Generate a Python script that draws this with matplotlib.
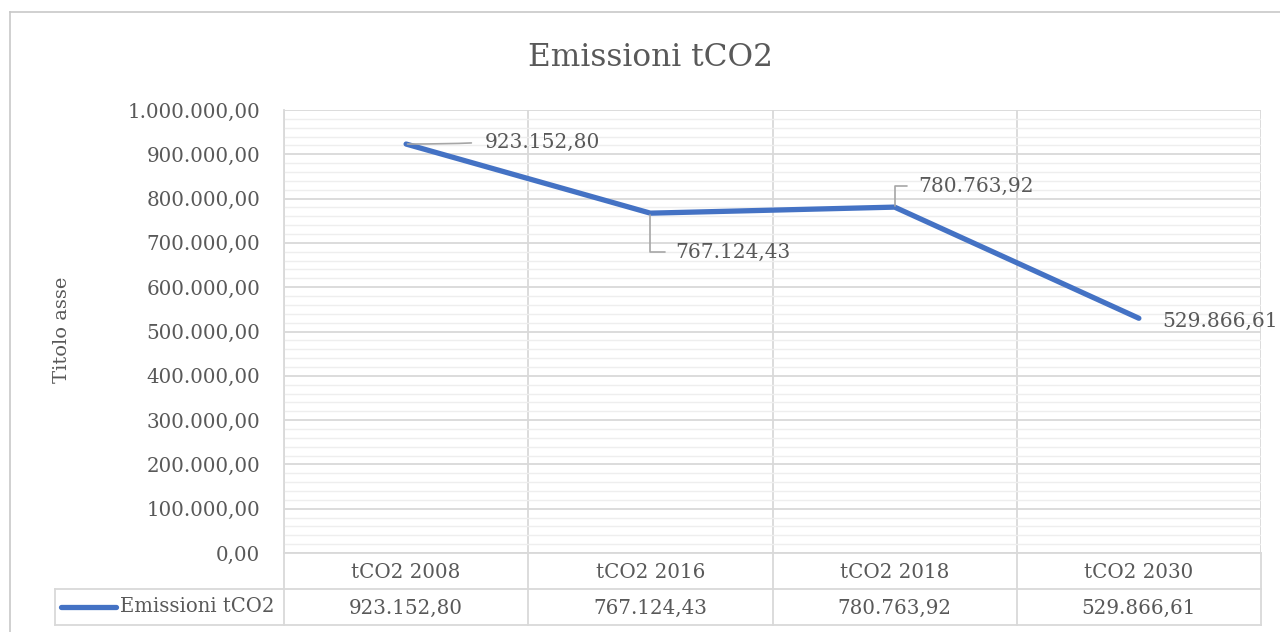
import matplotlib
matplotlib.use("Agg")
import matplotlib.pyplot as plt
from matplotlib.ticker import MultipleLocator, FuncFormatter
from matplotlib.transforms import blended_transform_factory

# dati
categorie = ["tCO2 2008", "tCO2 2016", "tCO2 2018", "tCO2 2030"]
emissioni = [923152.80, 767124.43, 780763.92, 529866.61]
serie_nome = "Emissioni tCO2"
titolo = "Emissioni tCO2"
titolo_asse = "Titolo asse"

BLU = "#4472c4"
GRIGIO_TESTO = "#595959"
GRIGIO_GRID = "#d9d9d9"
GRIGIO_MINOR = "#eeeeee"
FONT = "DejaVu Serif"

W, H = 1280, 632


def it_fmt(v):
    s = f"{v:,.2f}"
    return s.replace(",", "X").replace(".", ",").replace("X", ".")


def fx(px):
    return px / W


def fy(py):
    return 1 - py / H


def pt(px):
    # pixel -> punti (dpi 100)
    return px * 0.72


plt.rcParams["font.family"] = FONT

fig = plt.figure(figsize=(12.8, 6.32), dpi=100)

# bordo del grafico (tagliato a destra e in basso)
fig.add_artist(plt.Line2D([fx(10), fx(10)], [fy(12), 0], color="#c8c8c8", lw=1.2))
fig.add_artist(plt.Line2D([fx(10), 1], [fy(12), fy(12)], color="#c8c8c8", lw=1.2))

x0, x1, ytop, ybot = 284, 1261, 110, 553
ax = fig.add_axes([fx(x0), fy(ybot), fx(x1 - x0), (ybot - ytop) / H])
n = len(categorie)
xs = list(range(n))
ax.set_xlim(-0.5, n - 0.5)
ax.set_ylim(0, 1000000)

ax.yaxis.set_major_locator(MultipleLocator(100000))
ax.yaxis.set_minor_locator(MultipleLocator(20000))
ax.yaxis.set_major_formatter(FuncFormatter(lambda v, p: it_fmt(v)))
ax.grid(which="minor", axis="y", color=GRIGIO_MINOR, lw=1.0)
ax.grid(which="major", axis="y", color=GRIGIO_GRID, lw=1.3)
ax.set_xticks([i + 0.5 for i in range(-1, n)], minor=False)
ax.grid(which="major", axis="x", color=GRIGIO_GRID, lw=1.3)
ax.set_axisbelow(True)
ax.tick_params(axis="both", which="both", length=0)
ax.tick_params(axis="y", labelsize=14.3, labelcolor=GRIGIO_TESTO, pad=pt(24))
ax.set_xticklabels([])
for s in ax.spines.values():
    s.set_visible(False)
for k in ("left", "bottom"):
    ax.spines[k].set_visible(True)
    ax.spines[k].set_color(GRIGIO_GRID)
    ax.spines[k].set_linewidth(1.3)

ax.plot(xs, emissioni, color=BLU, lw=3.8, solid_capstyle="round", zorder=3)

# etichette dati con linee guida
lab_kw = dict(fontsize=14.5, color=GRIGIO_TESTO, va="center", ha="left",
              textcoords="offset points")
lead = dict(arrowstyle="-", color="#a6a6a6", lw=1.2, relpos=(0, 0.5))
ax.annotate(it_fmt(emissioni[0]), xy=(xs[0], emissioni[0]), xytext=(pt(79), pt(2)),
            arrowprops=dict(connectionstyle="angle3,angleA=5,angleB=0",
                            shrinkA=pt(11), shrinkB=1, **lead), **lab_kw)
ax.annotate(it_fmt(emissioni[1]), xy=(xs[1], emissioni[1]), xytext=(pt(25), pt(-39)),
            arrowprops=dict(connectionstyle="angle,angleA=0,angleB=90,rad=0",
                            shrinkA=pt(8), shrinkB=1, **lead), **lab_kw)
ax.annotate(it_fmt(emissioni[2]), xy=(xs[2], emissioni[2]), xytext=(pt(24), pt(21)),
            arrowprops=dict(connectionstyle="angle,angleA=0,angleB=90,rad=0",
                            shrinkA=pt(9), shrinkB=1, **lead), **lab_kw)
ax.annotate(it_fmt(emissioni[3]), xy=(xs[3], emissioni[3]), xytext=(pt(23), pt(-3)),
            **lab_kw)

fig.text(fx(650), fy(57), titolo, fontsize=22.5, color=GRIGIO_TESTO, ha="center", va="center")
fig.text(fx(62), fy(330), titolo_asse, rotation=90, fontsize=14, color=GRIGIO_TESTO,
         ha="center", va="center")

# tabella dati
row1, row2 = 589, 625
tr = blended_transform_factory(ax.transData, fig.transFigure)
for i in range(-1, n):
    fig.add_artist(plt.Line2D([i + 0.5, i + 0.5], [fy(row2), fy(ybot)], transform=tr,
                              color=GRIGIO_GRID, lw=1.3))
fig.add_artist(plt.Line2D([fx(55), fx(55)], [fy(row1), fy(row2)], color=GRIGIO_GRID, lw=1.3))
for yy in (row1, row2):
    fig.add_artist(plt.Line2D([fx(55), fx(x1)], [fy(yy), fy(yy)], color=GRIGIO_GRID, lw=1.3))
for i, (c, v) in enumerate(zip(categorie, emissioni)):
    fig.text(i, fy(572), c, transform=tr, ha="center", va="center",
             fontsize=14.3, color=GRIGIO_TESTO)
    fig.text(i, fy(608), it_fmt(v), transform=tr, ha="center", va="center",
             fontsize=14.3, color=GRIGIO_TESTO)
fig.add_artist(plt.Line2D([fx(61), fx(116)], [fy(607), fy(607)], color=BLU, lw=3.8,
                          solid_capstyle="round"))
fig.text(fx(120), fy(607), serie_nome, ha="left", va="center", fontsize=14.1, color=GRIGIO_TESTO)

fig.savefig("out.png", dpi=100)
